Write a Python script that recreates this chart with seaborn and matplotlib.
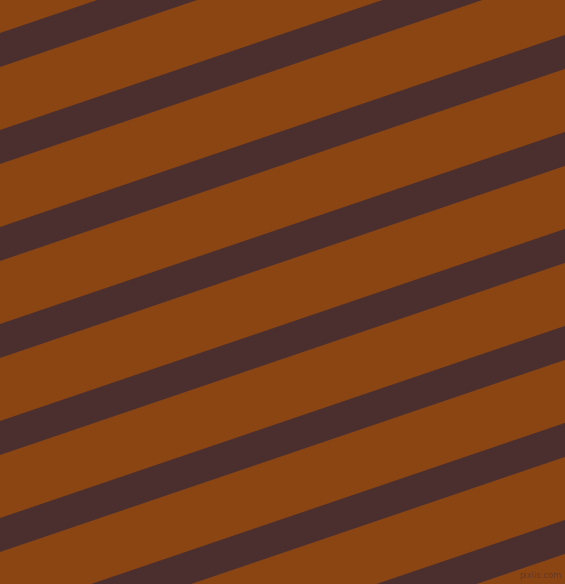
import numpy as np
import matplotlib
matplotlib.use("Agg")
import matplotlib.pyplot as plt
import seaborn as sns

# stripe data: where each dark band's upper edge meets the left border (px from top)
stripe_starts = [-64, 33, 130, 227, 324, 421, 518, 615, 712]
stripe_width = 34       # vertical thickness of a band
stripe_slope = 0.34     # rise per px to the right

background = "#8B4513"
stripe_color = "#4B2F2F"

sns.set_style("white")

fig = plt.figure(figsize=(5.65, 5.84), dpi=100)
ax = fig.add_axes([0, 0, 1, 1])
ax.set_facecolor(background)

x = np.array([0, 565])
for start in stripe_starts:
    top = start - stripe_slope * x
    ax.fill_between(x, top, top + stripe_width, color=stripe_color, linewidth=0)

ax.set_xlim(0, 565)
ax.set_ylim(584, 0)
ax.axis("off")
fig.patch.set_facecolor(background)

ax.text(562, 580, "pixlis.com", ha="right", va="bottom", fontsize=6,
        color="#4B2F2F", alpha=0.6)

fig.savefig("out.png", dpi=100, facecolor=background)
